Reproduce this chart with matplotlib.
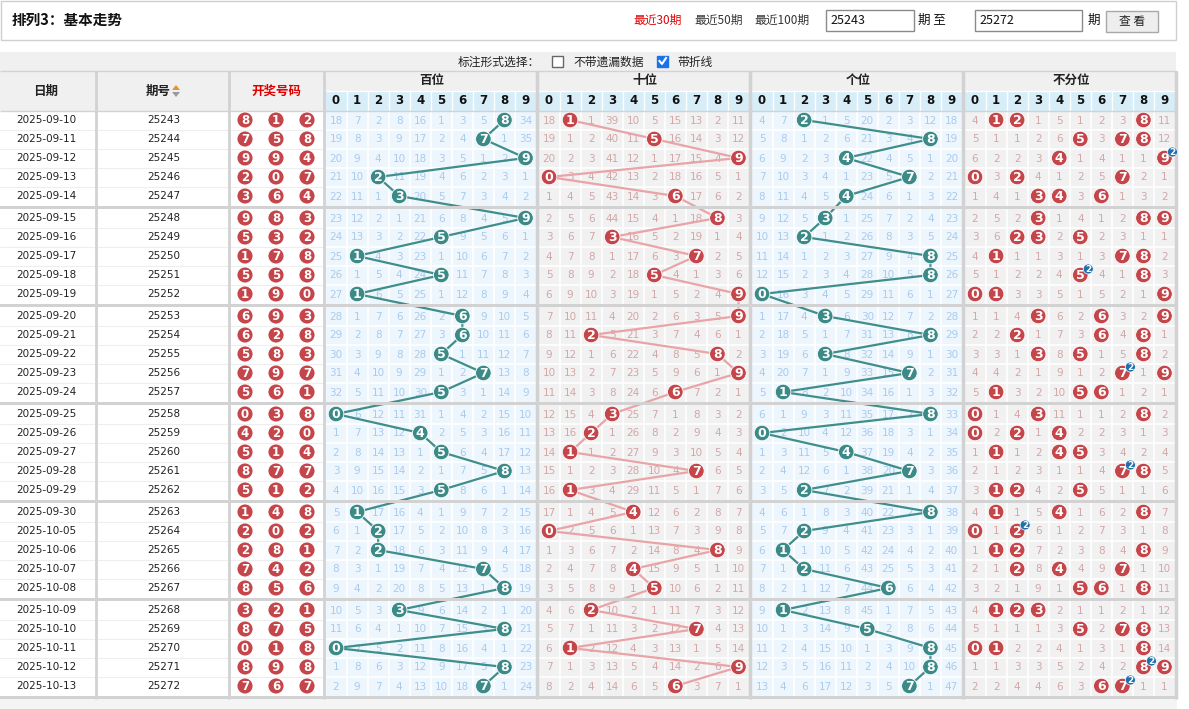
import matplotlib
matplotlib.use("Agg")
import matplotlib.pyplot as plt
from matplotlib.patches import Rectangle, Circle, Polygon

plt.rcParams['font.family'] = ['Noto Sans CJK SC', 'DejaVu Sans']

dates = ["2025-09-10", "2025-09-11", "2025-09-12", "2025-09-13", "2025-09-14",
         "2025-09-15", "2025-09-16", "2025-09-17", "2025-09-18", "2025-09-19",
         "2025-09-20", "2025-09-21", "2025-09-22", "2025-09-23", "2025-09-24",
         "2025-09-25", "2025-09-26", "2025-09-27", "2025-09-28", "2025-09-29",
         "2025-09-30", "2025-10-05", "2025-10-06", "2025-10-07", "2025-10-08",
         "2025-10-09", "2025-10-10", "2025-10-11", "2025-10-12", "2025-10-13"]
issues = ["25243", "25244", "25245", "25246", "25247", "25248", "25249", "25250",
          "25251", "25252", "25253", "25254", "25255", "25256", "25257", "25258",
          "25259", "25260", "25261", "25262", "25263", "25264", "25265", "25266",
          "25267", "25268", "25269", "25270", "25271", "25272"]
draws = ["812", "758", "994", "207", "364", "983", "532", "178", "558", "190",
         "693", "628", "583", "797", "561", "038", "420", "514", "877", "512",
         "148", "202", "281", "742", "856", "321", "875", "018", "898", "767"]

# omission values per group, 0 = hit (drawn as a ball)
miss_bai = [
    "18 7 2 8 16 1 3 5 0 34", "19 8 3 9 17 2 4 0 1 35", "20 9 4 10 18 3 5 1 2 0",
    "21 10 0 11 19 4 6 2 3 1", "22 11 1 0 20 5 7 3 4 2", "23 12 2 1 21 6 8 4 5 0",
    "24 13 3 2 22 0 9 5 6 1", "25 0 4 3 23 1 10 6 7 2", "26 1 5 4 24 0 11 7 8 3",
    "27 0 6 5 25 1 12 8 9 4", "28 1 7 6 26 2 0 9 10 5", "29 2 8 7 27 3 0 10 11 6",
    "30 3 9 8 28 0 1 11 12 7", "31 4 10 9 29 1 2 0 13 8", "32 5 11 10 30 0 3 1 14 9",
    "0 6 12 11 31 1 4 2 15 10", "1 7 13 12 0 2 5 3 16 11", "2 8 14 13 1 0 6 4 17 12",
    "3 9 15 14 2 1 7 5 0 13", "4 10 16 15 3 0 8 6 1 14", "5 0 17 16 4 1 9 7 2 15",
    "6 1 0 17 5 2 10 8 3 16", "7 2 0 18 6 3 11 9 4 17", "8 3 1 19 7 4 12 0 5 18",
    "9 4 2 20 8 5 13 1 0 19", "10 5 3 0 9 6 14 2 1 20", "11 6 4 1 10 7 15 3 0 21",
    "0 7 5 2 11 8 16 4 1 22", "1 8 6 3 12 9 17 5 0 23", "2 9 7 4 13 10 18 0 1 24"]
miss_shi = [
    "18 0 1 39 10 5 15 13 2 11", "19 1 2 40 11 0 16 14 3 12", "20 2 3 41 12 1 17 15 4 0",
    "0 3 4 42 13 2 18 16 5 1", "1 4 5 43 14 3 0 17 6 2", "2 5 6 44 15 4 1 18 0 3",
    "3 6 7 0 16 5 2 19 1 4", "4 7 8 1 17 6 3 0 2 5", "5 8 9 2 18 0 4 1 3 6",
    "6 9 10 3 19 1 5 2 4 0", "7 10 11 4 20 2 6 3 5 0", "8 11 0 5 21 3 7 4 6 1",
    "9 12 1 6 22 4 8 5 0 2", "10 13 2 7 23 5 9 6 1 0", "11 14 3 8 24 6 0 7 2 1",
    "12 15 4 0 25 7 1 8 3 2", "13 16 0 1 26 8 2 9 4 3", "14 0 1 2 27 9 3 10 5 4",
    "15 1 2 3 28 10 4 0 6 5", "16 0 3 4 29 11 5 1 7 6", "17 1 4 5 0 12 6 2 8 7",
    "0 2 5 6 1 13 7 3 9 8", "1 3 6 7 2 14 8 4 0 9", "2 4 7 8 0 15 9 5 1 10",
    "3 5 8 9 1 0 10 6 2 11", "4 6 0 10 2 1 11 7 3 12", "5 7 1 11 3 2 12 0 4 13",
    "6 0 2 12 4 3 13 1 5 14", "7 1 3 13 5 4 14 2 6 0", "8 2 4 14 6 5 0 3 7 1"]
miss_ge = [
    "4 7 0 1 5 20 2 3 12 18", "5 8 1 2 6 21 3 4 0 19", "6 9 2 3 0 22 4 5 1 20",
    "7 10 3 4 1 23 5 0 2 21", "8 11 4 5 0 24 6 1 3 22", "9 12 5 0 1 25 7 2 4 23",
    "10 13 0 1 2 26 8 3 5 24", "11 14 1 2 3 27 9 4 0 25", "12 15 2 3 4 28 10 5 0 26",
    "0 16 3 4 5 29 11 6 1 27", "1 17 4 0 6 30 12 7 2 28", "2 18 5 1 7 31 13 8 0 29",
    "3 19 6 0 8 32 14 9 1 30", "4 20 7 1 9 33 15 0 2 31", "5 0 8 2 10 34 16 1 3 32",
    "6 1 9 3 11 35 17 2 0 33", "0 2 10 4 12 36 18 3 1 34", "1 3 11 5 0 37 19 4 2 35",
    "2 4 12 6 1 38 20 0 3 36", "3 5 0 7 2 39 21 1 4 37", "4 6 1 8 3 40 22 2 0 38",
    "5 7 0 9 4 41 23 3 1 39", "6 0 1 10 5 42 24 4 2 40", "7 1 0 11 6 43 25 5 3 41",
    "8 2 1 12 7 44 0 6 4 42", "9 0 2 13 8 45 1 7 5 43", "10 1 3 14 9 0 2 8 6 44",
    "11 2 4 15 10 1 3 9 0 45", "12 3 5 16 11 2 4 10 0 46", "13 4 6 17 12 3 5 0 1 47"]
miss_all = [
    "4 0 0 1 5 1 2 3 0 11", "5 1 1 2 6 0 3 0 0 12", "6 2 2 3 0 1 4 1 1 0",
    "0 3 0 4 1 2 5 0 2 1", "1 4 1 0 0 3 0 1 3 2", "2 5 2 0 1 4 1 2 0 0",
    "3 6 0 0 2 0 2 3 1 1", "4 0 1 1 3 1 3 0 0 2", "5 1 2 2 4 0 4 1 0 3",
    "0 0 3 3 5 1 5 2 1 0", "1 1 4 0 6 2 0 3 2 0", "2 2 0 1 7 3 0 4 0 1",
    "3 3 1 0 8 0 1 5 0 2", "4 4 2 1 9 1 2 0 1 0", "5 0 3 2 10 0 0 1 2 1",
    "0 1 4 0 11 1 1 2 0 2", "0 2 0 1 0 2 2 3 1 3", "1 0 1 2 0 0 3 4 2 4",
    "2 1 2 3 1 1 4 0 0 5", "3 0 0 4 2 0 5 1 1 6", "4 0 1 5 0 1 6 2 0 7",
    "0 1 0 6 1 2 7 3 1 8", "1 0 0 7 2 3 8 4 0 9", "2 1 0 8 0 4 9 0 1 10",
    "3 2 1 9 1 0 0 1 0 11", "4 0 0 0 2 1 1 2 1 12", "5 1 1 1 3 0 2 0 0 13",
    "0 0 2 2 4 1 3 1 0 14", "1 1 3 3 5 2 4 2 0 0", "2 2 4 4 6 3 0 0 1 1"]
group_names = ["百位", "十位", "个位", "不分位"]

TEAL, TEAL_LINE = "#3b8a87", "#3f8e8b"
RED, PINK_LINE = "#c4454a", "#e8a4a7"
BLUE_BG, GRAY_BG = "#eef6fd", "#f1f1f1"
BLUE_TXT, RED_TXT = "#a9cbee", "#d3a7a7"
SEP = "#d2d2d2"

W, H = 1189, 709
TOP, ROW_H, GAP = 110.5, 19.0, 3.0
GX0, GW = 325.5, 213.0
CW = (GW - 2.5) / 10


def row_top(i):
    return TOP + i * ROW_H + (i // 5) * GAP


def row_mid(i):
    return row_top(i) + ROW_H / 2


def ball(ax, x, y, digit, color, r=7.8, size=9):
    ax.add_patch(Circle((x, y), r, facecolor=color, edgecolor="white", lw=0.6, zorder=5))
    ax.text(x, y + 0.5, str(digit), color="white", fontsize=size, fontweight="bold",
            ha="center", va="center", zorder=6, family="DejaVu Sans")


fig = plt.figure(figsize=(W / 100, H / 100), dpi=100)
ax = fig.add_axes([0, 0, 1, 1])
ax.set_xlim(0, W)
ax.set_ylim(H, 0)
ax.axis("off")

# ---- top bar
ax.add_patch(Rectangle((0.5, 0.5), 1175, 39, facecolor="white", edgecolor="#cfcfcf", lw=1))
ax.text(12, 20, "排列3：基本走势", fontsize=10.5, fontweight="bold", va="center", color="#111")
for x, label, col in [(633, "最近30期", "#e00000"), (694, "最近50期", "#333"), (754, "最近100期", "#333")]:
    ax.text(x, 20, label, fontsize=8.5, va="center", color=col)
for x0, x1, val in [(826, 914, issues[0]), (975, 1082, issues[-1])]:
    ax.add_patch(Rectangle((x0, 10), x1 - x0, 21, facecolor="white", edgecolor="#8a8a8a", lw=1))
    ax.text(x0 + 4, 20.5, val, fontsize=9, va="center", color="#111")
ax.text(918, 20.5, "期 至", fontsize=9, va="center", color="#111")
ax.text(1088, 20.5, "期", fontsize=9, va="center", color="#111")
ax.add_patch(Rectangle((1106, 10.5), 52, 21, facecolor="#eeeeee", edgecolor="#a8a8a8", lw=1))
ax.text(1132, 21, "查 看", fontsize=8.5, va="center", ha="center", color="#222")

# ---- option row
ax.add_patch(Rectangle((0, 52), 1176, 19, facecolor="#f0f0f0", edgecolor="none"))
ax.text(458, 62, "标注形式选择：", fontsize=8.5, va="center", color="#222")
ax.add_patch(Rectangle((552, 55.5), 11, 11, facecolor="white", edgecolor="#666", lw=1))
ax.text(573, 62, "不带遗漏数据", fontsize=8.5, va="center", color="#222")
ax.add_patch(Rectangle((657, 55.5), 11, 11, facecolor="#1a73e8", edgecolor="#1a73e8", lw=1))
ax.plot([659.5, 662, 666], [61, 64, 58], color="white", lw=1.5, zorder=3)
ax.text(677, 62, "带折线", fontsize=8.5, va="center", color="#222")

# ---- table header
ax.add_patch(Rectangle((0, 71), 1177, 39.5, facecolor="#f0f0f0", edgecolor="none"))
ax.text(46, 91, "日期", fontsize=9, fontweight="bold", ha="center", va="center", color="#222")
ax.text(158, 91, "期号", fontsize=9, fontweight="bold", ha="center", va="center", color="#222")
ax.add_patch(Polygon([(172, 90), (180, 90), (176, 85)], facecolor="#e69138", edgecolor="none"))
ax.add_patch(Polygon([(172, 92), (180, 92), (176, 97)], facecolor="#9a9a9a", edgecolor="none"))
ax.text(276, 91, "开奖号码", fontsize=9, fontweight="bold", ha="center", va="center", color="#e00000")
for g, name in enumerate(group_names):
    x0 = GX0 + g * GW
    ax.text(x0 + GW / 2, 80.5, name, fontsize=9, fontweight="bold", ha="center", va="center", color="#222")
    ax.add_patch(Rectangle((x0, 91), GW - 2.5, 19.5, facecolor="#d7edf8", edgecolor="none"))
    for d in range(10):
        ax.text(x0 + (d + 0.5) * CW, 101, str(d), fontsize=8.5, fontweight="bold",
                ha="center", va="center", color="#111", family="DejaVu Sans")
    ax.vlines([x0 + k * CW for k in range(1, 10)], 91, 110.5, color="white", lw=1)
ax.hlines(91, GX0, GX0 + 4 * GW, color="white", lw=1)

# ---- body
n = len(dates)
ax.add_patch(Rectangle((0, TOP), 325, row_top(n - 1) + ROW_H - TOP, facecolor="white", edgecolor="none"))
for i in range(n):
    y = row_mid(i)
    ax.text(46, y, dates[i], fontsize=7.5, ha="center", va="center", color="#222", family="DejaVu Sans")
    ax.text(164, y, issues[i], fontsize=7.5, ha="center", va="center", color="#222", family="DejaVu Sans")
    for k, ch in enumerate(draws[i]):
        ball(ax, 245 + k * 31, y, ch, RED, r=8, size=8.5)
    if i % 5 != 4:
        ax.hlines(row_top(i) + ROW_H, 0, 325, color="#eeeeee", lw=0.8)

tables = [miss_bai, miss_shi, miss_ge, miss_all]
for g, table in enumerate(tables):
    x0 = GX0 + g * GW
    blue = g in (0, 2)
    bg = BLUE_BG if blue else GRAY_BG
    txt = BLUE_TXT if blue else RED_TXT
    for b in range(n // 5):
        y0 = row_top(5 * b)
        ax.add_patch(Rectangle((x0, y0), GW - 2.5, 5 * ROW_H, facecolor=bg, edgecolor="none", zorder=1))
        ax.vlines([x0 + k * CW for k in range(1, 10)], y0, y0 + 5 * ROW_H, color="white", lw=1.2, zorder=1.5)
        ax.hlines([row_top(5 * b + k) for k in range(1, 5)], x0, x0 + GW - 2.5, color="white", lw=1.2, zorder=1.5)
    for i, row in enumerate(table):
        vals = row.split()
        for d, v in enumerate(vals):
            if v != "0":
                ax.text(x0 + (d + 0.5) * CW, row_mid(i) + 0.5, v, fontsize=7.5, ha="center", va="center",
                        color=txt, zorder=2, family="DejaVu Sans")
    if g < 3:
        xs = [x0 + (int(s[g]) + 0.5) * CW for s in draws]
        ys = [row_mid(i) for i in range(n)]
        ax.plot(xs, ys, color=TEAL_LINE if blue else PINK_LINE, lw=1.6, zorder=3, solid_capstyle="round")
        for i, s in enumerate(draws):
            ball(ax, xs[i], ys[i], s[g], TEAL if blue else RED)
    else:
        for i, s in enumerate(draws):
            for d in sorted(set(s)):
                cx, cy = x0 + (int(d) + 0.5) * CW, row_mid(i)
                ball(ax, cx, cy, d, RED)
                cnt = s.count(d)
                if cnt > 1:
                    bx, by = cx + 8, cy - 6
                    ax.add_patch(Circle((bx, by), 5, facecolor="#1f6fae", edgecolor="white", lw=0.5, zorder=7))
                    ax.text(bx, by + 0.4, str(cnt), fontsize=6.5, fontweight="bold", color="white",
                            ha="center", va="center", zorder=8, family="DejaVu Sans")

# ---- separators
for b in range(n // 5):
    yb = row_top(5 * b + 4) + ROW_H
    ax.add_patch(Rectangle((0, yb), 1177, GAP, facecolor=SEP, edgecolor="none", zorder=4))
ax.add_patch(Rectangle((0, row_top(n - 1) + ROW_H + GAP), 1177, 12, facecolor="#f4f4f4", edgecolor="none"))
bottom = row_top(n - 1) + ROW_H + GAP
for x in [95.5, 228.5, 324]:
    ax.vlines(x, 71, bottom, color=SEP, lw=2, zorder=4)
for g in range(4):
    ax.vlines(GX0 + (g + 1) * GW - 1.2, 71, bottom, color=SEP, lw=2.5, zorder=4)
ax.hlines(71, 0, 1177, color=SEP, lw=1)
ax.hlines(110.5, 0, 1177, color=SEP, lw=1)

fig.savefig("out.png", dpi=100)
